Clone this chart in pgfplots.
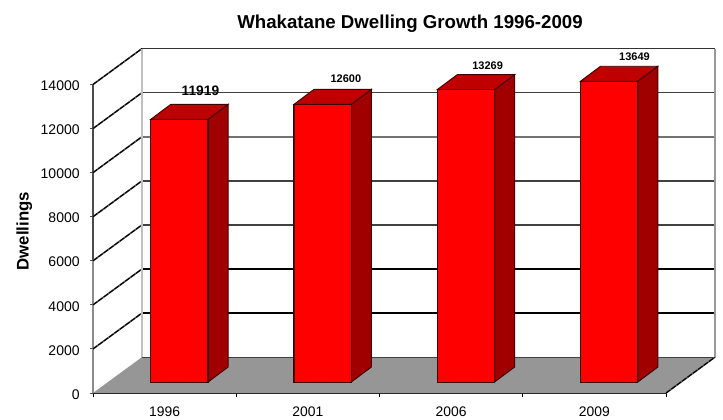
\documentclass[border=0pt]{standalone}
\usepackage{pgfplots}
\pgfplotsset{compat=1.18}
\usepackage{fontspec}
\setmainfont{Liberation Sans}
\definecolor{barfront}{HTML}{FF0000}
\definecolor{bartop}{HTML}{C00000}
\definecolor{barside}{HTML}{A00000}
\definecolor{floorc}{HTML}{969696}
% #1 category index, #2 value
\newcommand\threedbar[2]{%
  \pgfmathsetmacro\xl{#1+0.403}%
  \pgfmathsetmacro\xr{#1+0.803}%
  \pgfmathsetmacro\xrb{#1+0.943}%
  \pgfmathsetmacro\xlb{#1+0.543}%
  \pgfmathsetmacro\yb{498}%
  \pgfmathsetmacro\yt{#2+498}%
  \pgfmathsetmacro\ybb{498+680}%
  \pgfmathsetmacro\ytb{#2+498+680}%
  \addplot[draw=black!75!red,line width=0.7pt,fill=barside] coordinates {(\xr,\yb)(\xr,\yt)(\xrb,\ytb)(\xrb,\ybb)} --cycle;
  \addplot[draw=black!75!red,line width=0.7pt,fill=bartop] coordinates {(\xl,\yt)(\xlb,\ytb)(\xrb,\ytb)(\xr,\yt)} --cycle;
  \addplot[draw=black!75!red,line width=0.8pt,fill=barfront] coordinates {(\xl,\yb)(\xl,\yt)(\xr,\yt)(\xr,\yb)} --cycle;
}
\pgfplotsset{diag/.style={black!65,line width=1.2pt},diagb/.style={black,line width=0.8pt,dash pattern=on 4pt off 1pt}}
\begin{document}
\begin{tikzpicture}
\path[use as bounding box] (0pt,0pt) rectangle (542.25pt,-314.25pt);
\begin{axis}[
  at={(69.75pt,-294.75pt)},anchor=origin,
  scale only axis,width=429.75pt,height=231.4pt,
  xmin=0,xmax=4,ymin=0,ymax=14000,clip=false,
  axis lines=left,axis line style={-},
  x axis line style={black!90,line width=1.4pt},
  y axis line style={black!45,line width=1pt},
  ytick={0,2000,4000,6000,8000,10000,12000,14000},
  xtick={0.5,1.5,2.5,3.5},xticklabels={1996,2001,2006,2009},
  minor xtick={0,1,2,3,4},
  tick align=outside,
  major x tick style={draw=none},
  minor x tick style={black,line width=0.7pt},
  minor tick length=3pt,
  y tick style={black!70,line width=0.7pt},
  major tick length=2.5pt,
  y tick label style={font=\fontsize{10.5pt}{12pt}\selectfont,xshift=-4pt,yshift=-1pt},
  x tick label style={font=\fontsize{10.4pt}{12pt}\selectfont,inner sep=0pt,yshift=-7.5pt},
  /pgf/number format/assume math mode=true,
  /pgf/number format/set thousands separator={},
  scaled y ticks=false,
  ylabel={\textbf{Dwellings}},
  ylabel style={font=\fontsize{12.6pt}{14pt}\selectfont,at={(axis description cs:-0.12,0.525)},anchor=center},
]
% floor
\addplot[draw=none,fill=floorc] coordinates {(0,0)(0.342,1629)(4.342,1629)(4,0)} --cycle;
% darker upper part of the vertical axis
\addplot[black!70,line width=1pt] coordinates {(0,6000)(0,14000)};
% back wall gridlines
\addplot[black!75,line width=0.9pt] coordinates {(0.342,1629)(4.342,1629)};
\addplot[black,line width=1.2pt] coordinates {(0.342,3629)(4.342,3629)};
\addplot[black,line width=1.2pt] coordinates {(0.342,5629)(4.342,5629)};
\addplot[black!75,line width=1.2pt] coordinates {(0.342,7629)(4.342,7629)};
\addplot[black!75,line width=1.2pt] coordinates {(0.342,9629)(4.342,9629)};
\addplot[black!55,line width=1.2pt] coordinates {(0.342,11629)(4.342,11629)};
\addplot[black!75,line width=1.2pt] coordinates {(0.342,13629)(4.342,13629)};
\addplot[black!80,line width=1.2pt] coordinates {(0.342,15629)(4.342,15629)};
% side wall gridlines
\addplot[diag] coordinates {(0,2000)(0.342,3629)};
\addplot[diagb] coordinates {(0,2000)(0.342,3629)};
\addplot[diag] coordinates {(0,4000)(0.342,5629)};
\addplot[diagb] coordinates {(0,4000)(0.342,5629)};
\addplot[diag] coordinates {(0,6000)(0.342,7629)};
\addplot[diagb] coordinates {(0,6000)(0.342,7629)};
\addplot[diag] coordinates {(0,8000)(0.342,9629)};
\addplot[diagb] coordinates {(0,8000)(0.342,9629)};
\addplot[diag] coordinates {(0,10000)(0.342,11629)};
\addplot[diagb] coordinates {(0,10000)(0.342,11629)};
\addplot[diag] coordinates {(0,12000)(0.342,13629)};
\addplot[diagb] coordinates {(0,12000)(0.342,13629)};
\addplot[diag] coordinates {(0,14000)(0.342,15629)};
\addplot[diagb] coordinates {(0,14000)(0.342,15629)};
\addplot[diag] coordinates {(4,0)(4.342,1629)};
\addplot[diagb] coordinates {(4,0)(4.342,1629)};
\addplot[black!25,line width=1.3pt] coordinates {(0.342,1629)(0.342,15629)};
\addplot[black!40,line width=1.2pt] coordinates {(4.342,1629)(4.342,15629)};
\threedbar{0}{11919}
\threedbar{1}{12600}
\threedbar{2}{13269}
\threedbar{3}{13649}
\node[font=\fontsize{10.3pt}{12pt}\selectfont\bfseries] at (axis cs:0.75,13710) {11919};
\node[font=\fontsize{8.25pt}{10pt}\selectfont\bfseries] at (axis cs:1.765,14280) {12600};
\node[font=\fontsize{8.25pt}{10pt}\selectfont\bfseries] at (axis cs:2.755,14860) {13269};
\node[font=\fontsize{8.25pt}{10pt}\selectfont\bfseries] at (axis cs:3.78,15270) {13649};
\end{axis}
\node[font=\fontsize{14pt}{16pt}\selectfont\bfseries] at (307.5pt,-17.5pt) {Whakatane Dwelling Growth 1996-2009};
\end{tikzpicture}
\end{document}
